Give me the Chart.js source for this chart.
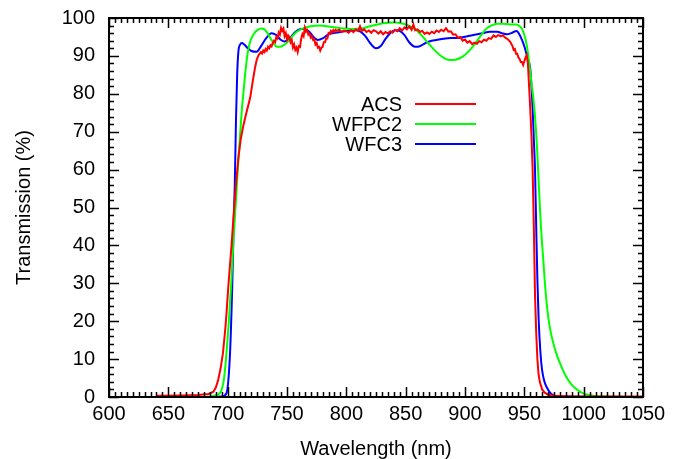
<!DOCTYPE html>
<html>
<head>
<meta charset="utf-8">
<script src="https://cdn.jsdelivr.net/npm/chart.js@4.4.1/dist/chart.umd.min.js"></script>
<style>
  html, body { margin: 0; padding: 0; background: #fff; }
  canvas { display: block; }
</style>
</head>
<body>
<canvas id="filterChart" width="678" height="459"></canvas>
<script>
// --- Data ---
const xTicks = [600, 650, 700, 750, 800, 850, 900, 950, 1000, 1050];
const yTicks = [0, 10, 20, 30, 40, 50, 60, 70, 80, 90, 100];
const seriesNames = ['ACS', 'WFPC2', 'WFC3'];

const acsWl = [640, 660, 675, 684, 688, 690, 692, 694, 696, 698, 699, 700.5, 702, 703.5, 705, 707, 709, 711, 713, 715, 717, 719, 721, 723, 724.5, 726, 727, 728, 729, 730, 731, 732, 733, 734, 735, 736, 737, 738, 739, 740,
  741, 742, 743, 744, 745, 746, 747, 748, 749, 750, 751, 752, 753, 754, 755, 756, 757, 758, 759, 760,
  761, 762, 763, 764, 765, 766, 767, 768, 769, 770, 771, 772, 773, 774, 775, 776, 777, 778, 779, 780,
  781, 782, 783, 784, 785, 786, 787, 788, 789, 790, 791, 792, 794, 796, 798, 800, 802, 804, 806, 808,
  810, 811.5, 813, 815, 817, 819, 821, 823, 825, 827, 829, 831, 833, 835, 837, 839, 841, 843, 845, 847,
  849, 851, 853, 855, 856.5, 858, 860, 862, 864, 866, 868, 870, 872, 874, 876, 878, 880, 882, 884, 886,
  888, 890, 892, 894, 896, 898, 900, 902, 904, 906, 908, 910, 912, 914, 916, 918, 920, 922, 924, 926,
  928, 930, 932, 934, 936, 938, 940, 941, 942, 943, 944, 945, 946, 947, 948, 949, 950, 951, 952, 953,
  954, 955, 956, 957, 958, 959, 960, 961, 962, 963, 965, 967, 970, 975, 985, 1000, 1050];
const acsT = [0.3, 0.4, 0.5, 0.8, 1.4, 2.5, 4.5, 7.5, 11.5, 18, 22, 29, 35, 41, 48, 56, 63, 68, 71.3, 74, 76.5, 79, 83, 86.8, 89, 90.2, 90.6, 91, 90.6, 91.4, 91, 91.8, 91.4, 92.4, 92, 92.8, 92.5, 93.4, 94, 93.6,
  95, 94.6, 96.2, 95.6, 97.4, 96.6, 97.2, 95.2, 96, 94.4, 95.4, 95, 93.6, 94.2, 92.2, 93, 91.6, 92.2, 91, 92.6,
  92.4, 94.6, 95.8, 95.2, 97.4, 96.4, 96.8, 95.6, 95.9, 94.8, 95.2, 94.2, 94.4, 93, 93.4, 92.2, 92.4, 91.4, 92.2, 92.4,
  93.6, 93.6, 94.6, 94.6, 96, 95.8, 96.6, 96.2, 96.8, 96.4, 96.9, 96.6, 96.9, 96.3, 96.7, 96.5, 96.1, 96.8, 96.3, 97,
  96.6, 97.8, 96.6, 97, 96.3, 96.7, 96.1, 96.8, 96.5, 95.9, 96.5, 95.7, 96.3, 95.9, 96.5, 96.1, 96.9, 96.5, 97.3, 96.7,
  97.5, 97, 97.8, 96.9, 98.3, 96.8, 97, 96.3, 96.6, 95.8, 96.2, 95.8, 96.4, 96, 96.7, 96.3, 96.9, 96.5, 97.3, 96.4,
  96.5, 95.6, 95.7, 94.8, 95, 94, 94.3, 93.5, 93.9, 93.1, 93.5, 93.2, 93.9, 93.6, 94.3, 94, 94.7, 94.5, 95.4, 95,
  95.5, 95.2, 95.4, 94.8, 94.4, 93.8, 92.6, 91.6, 91.8, 90.6, 90.6, 89.6, 89.2, 88.4, 88.4, 87.6, 88.6, 89.6, 90.2, 88,
  82, 76, 69, 60, 45, 27, 17, 10, 6, 4, 2, 1.2, 0.6, 0.3, 0.2, 0.1, 0.1];

const wfpc2Wl = [680, 688, 691, 693.5, 695, 697, 699, 701, 703, 705, 707, 708.5, 710, 712, 713.5, 715, 717, 719, 722, 725,
  728.5, 731, 734, 737, 740.5, 744, 747, 750, 754, 758, 763, 770, 778, 786, 795, 805, 812, 820, 831, 840,
  848, 854, 859, 864, 870, 876, 882, 887, 892, 898, 903, 908, 913, 918, 922, 927, 932, 938, 943.5, 946,
  948, 950, 952, 954, 956, 957.5, 959, 961, 962.5, 964, 966, 968, 970, 972, 975, 978, 981, 985, 990, 995,
  1000, 1005, 1010, 1020, 1050];
const wfpc2T = [0, 0.3, 0.6, 1, 2, 5, 11.5, 20, 30, 42, 52, 60, 67, 76, 81, 86, 91, 93.8, 95.8, 96.8,
  97.2, 97, 95.8, 94.2, 92.6, 92.4, 92.8, 93.5, 95, 96.3, 97.2, 97.8, 98, 97.7, 97.3, 97.1, 97.2, 97.8, 98.6, 98.8,
  98.5, 97.8, 96.8, 95.2, 93, 91, 89.5, 88.9, 89, 89.8, 91.2, 93, 95.2, 97.2, 98, 98.5, 98.5, 98.3, 98.3, 97.8,
  97.2, 95.5, 92.9, 88.5, 83, 79, 74, 64, 54, 45, 36, 27.5, 21.5, 17.5, 13.5, 10.5, 8.2, 5.5, 3.2, 1.8,
  0.9, 0.5, 0.2, 0.1, 0];

const wfc3Wl = [680, 695, 699, 702, 704, 705, 706, 707, 708, 709, 710.5, 712, 714, 717, 720, 724.5, 728, 732, 737, 741,
  745, 748, 752, 757, 762, 765, 769, 773, 776, 780, 785, 789, 795, 800, 808, 812, 816, 820, 825, 829,
  833, 837, 841, 845, 849, 853, 857, 860, 864, 868, 872, 876, 882, 888, 896, 902, 908, 915, 921, 927,
  931, 935, 939, 943.5, 946, 948, 950.5, 953, 955, 957, 958, 959, 960, 961, 962, 963.5, 965, 967, 969, 972,
  976, 985, 1050];
const wfc3T = [0, 0.1, 1, 11.6, 31, 45, 56, 73, 85, 91, 93, 93.4, 93, 92, 91.3, 91.1, 92.5, 94.5, 96, 95.5,
  94.2, 93.8, 94.5, 96.3, 97.1, 97.1, 96.3, 94.8, 94.2, 94.6, 95.7, 96, 96.3, 96.6, 96.8, 96.4, 95.2, 93.4, 92, 92.6,
  94.5, 96, 96.8, 96.6, 95.5, 93.6, 92.5, 92.4, 92.9, 93.6, 94, 94.2, 94.5, 94.7, 94.8, 95.2, 95.6, 96, 96.4, 96.4,
  96, 95.7, 96, 96.6, 95.6, 94.2, 92, 89, 86.5, 76, 68, 60, 45, 31, 21, 12, 7, 4, 2.5, 1,
  0.3, 0.1, 0];

// --- Helpers ---
function toPoints(xs, ys) {
  return xs.map((x, i) => ({ x: x, y: ys[i] }));
}

const FONT = '"Liberation Sans", Arial, Helvetica, sans-serif';
const colors = ['#ff0000', '#00ff00', '#0000ff'];

// Inward ticks on all four sides + frame, gnuplot style
const framePlugin = {
  id: 'frame',
  afterDatasetsDraw(chart) {
    const { ctx, chartArea: a, scales } = chart;
    const xs = scales.x, ys = scales.y;
    ctx.save();
    ctx.strokeStyle = '#000';
    ctx.lineWidth = 1.5;
    ctx.beginPath();
    for (let v = 600; v <= 1050; v += 5) {
      const px = Math.round(xs.getPixelForValue(v)) + 0.5;
      const len = (v % 50 === 0) ? 10 : 5;
      ctx.moveTo(px, a.bottom); ctx.lineTo(px, a.bottom - len);
      ctx.moveTo(px, a.top); ctx.lineTo(px, a.top + len);
    }
    for (let v = 0; v <= 100; v += 2) {
      const py = Math.round(ys.getPixelForValue(v)) + 0.5;
      const len = (v % 10 === 0) ? 10 : 5;
      ctx.moveTo(a.left, py); ctx.lineTo(a.left + len, py);
      ctx.moveTo(a.right, py); ctx.lineTo(a.right - len, py);
    }
    ctx.stroke();
    ctx.lineWidth = 2;
    ctx.strokeRect(a.left, a.top, a.right - a.left, a.bottom - a.top);
    ctx.restore();
  }
};

// Key: right-aligned labels followed by line samples
const keyPlugin = {
  id: 'key',
  afterDraw(chart) {
    const ctx = chart.ctx;
    ctx.save();
    ctx.font = '20px ' + FONT;
    ctx.textAlign = 'right';
    ctx.textBaseline = 'middle';
    seriesNames.forEach((name, i) => {
      const y = 104 + i * 20;
      ctx.fillStyle = '#000';
      ctx.fillText(name, 402, y + 1);
      ctx.strokeStyle = colors[i];
      ctx.lineWidth = 2;
      ctx.beginPath();
      ctx.moveTo(415, y);
      ctx.lineTo(476, y);
      ctx.stroke();
    });
    ctx.restore();
  }
};

const ctx = document.getElementById('filterChart').getContext('2d');

new Chart(ctx, {
  type: 'scatter',
  data: {
    datasets: [
      { label: seriesNames[0], data: toPoints(acsWl, acsT), borderColor: colors[0], tension: 0 },
      { label: seriesNames[1], data: toPoints(wfpc2Wl, wfpc2T), borderColor: colors[1], cubicInterpolationMode: 'monotone' },
      { label: seriesNames[2], data: toPoints(wfc3Wl, wfc3T), borderColor: colors[2], cubicInterpolationMode: 'monotone' }
    ].map(d => Object.assign(d, { showLine: true, pointRadius: 0, borderWidth: 2, fill: false }))
  },
  options: {
    responsive: false,
    animation: false,
    devicePixelRatio: 1,
    layout: { padding: { top: 18, right: 35, left: 0, bottom: 0 } },
    plugins: {
      legend: { display: false },
      tooltip: { enabled: false }
    },
    scales: {
      x: {
        type: 'linear',
        min: 600,
        max: 1050,
        afterBuildTicks: s => { s.ticks = xTicks.map(v => ({ value: v })); },
        afterFit: s => { s.height = 62; },
        grid: { display: false, drawTicks: false },
        border: { display: false },
        ticks: { color: '#000', font: { family: FONT, size: 20 }, padding: 5, maxRotation: 0, autoSkip: false,
                 callback: v => String(v) },
        title: { display: true, text: 'Wavelength (nm)', color: '#000', font: { family: FONT, size: 20 }, padding: { top: 0, bottom: -2 } }
      },
      y: {
        min: 0,
        max: 100,
        afterBuildTicks: s => { s.ticks = yTicks.map(v => ({ value: v })); },
        afterFit: s => { s.width = 109; s.paddingTop = 0; s.paddingBottom = 0; },
        grid: { display: false, drawTicks: false },
        border: { display: false },
        ticks: { color: '#000', font: { family: FONT, size: 20 }, padding: 14 },
        title: { display: true, text: 'Transmission (%)', color: '#000', font: { family: FONT, size: 20 }, padding: { top: 12, bottom: 0 } }
      }
    }
  },
  plugins: [framePlugin, keyPlugin]
});
</script>
</body>
</html>
